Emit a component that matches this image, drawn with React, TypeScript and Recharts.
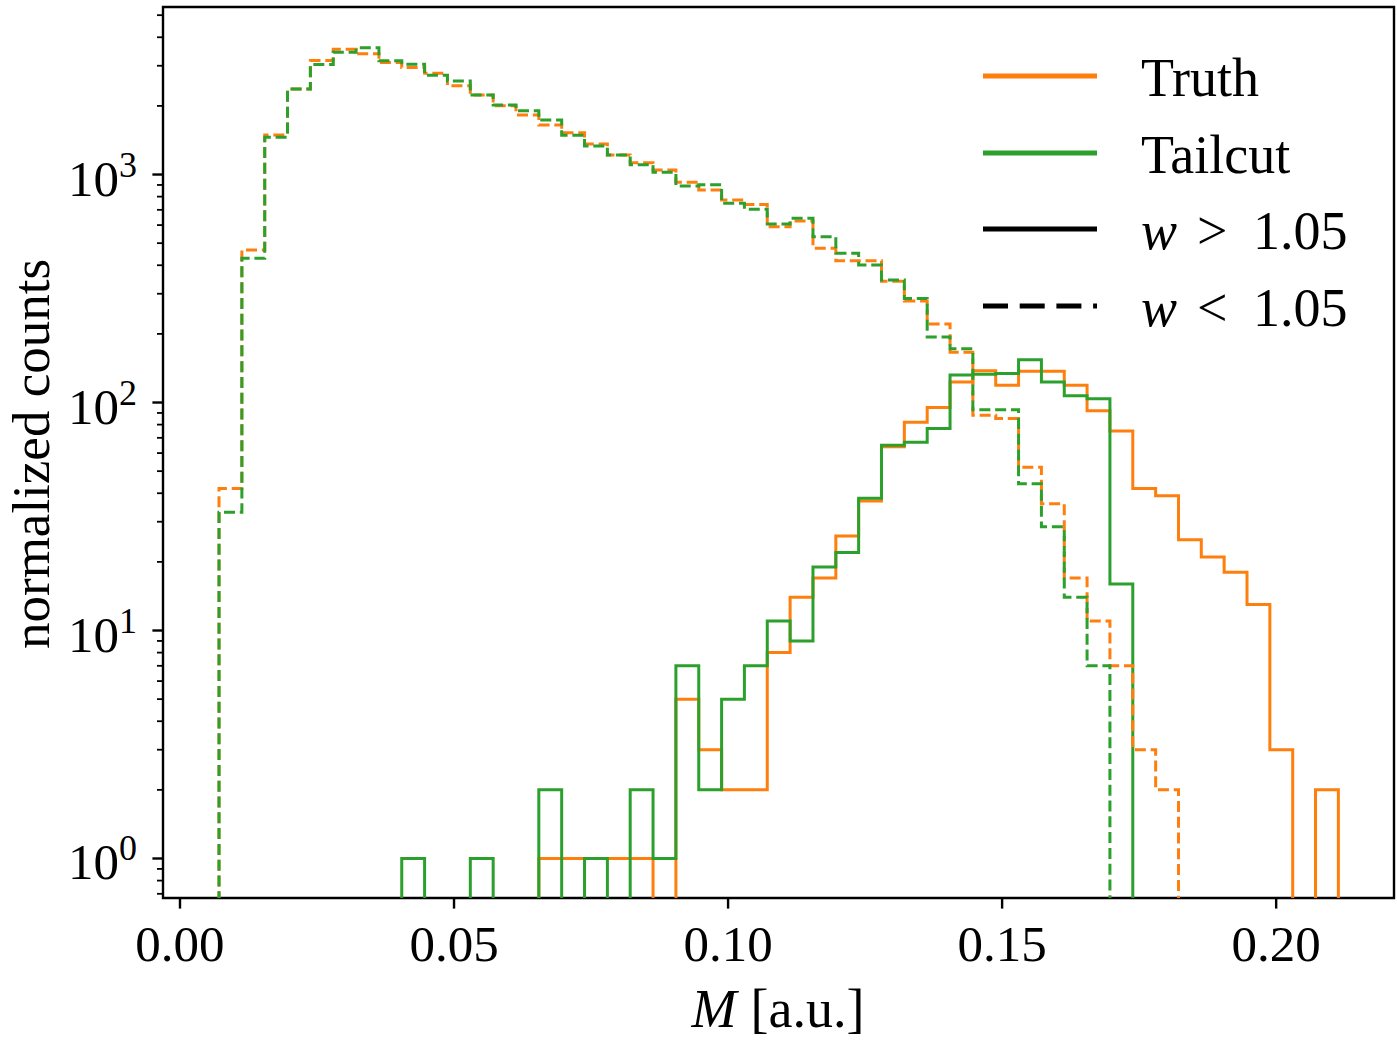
import React from "react";
import { ComposedChart, Line, XAxis, YAxis, ReferenceArea, Legend } from "recharts";

// bin edges of the M histogram (49 bins)
const EDGES = [
  0.00712, 0.01129, 0.01546, 0.01962, 0.02379, 0.02796, 0.03213, 0.0363, 0.04046, 0.04463,
  0.0488, 0.05297, 0.05714, 0.0613, 0.06547, 0.06964, 0.07381, 0.07798, 0.08214, 0.08631,
  0.09048, 0.09465, 0.09882, 0.10298, 0.10715, 0.11132, 0.11549, 0.11966, 0.12382, 0.12799,
  0.13216, 0.13633, 0.1405, 0.14466, 0.14883, 0.153, 0.15717, 0.16134, 0.1655, 0.16967,
  0.17384, 0.17801, 0.18218, 0.18634, 0.19051, 0.19468, 0.19885, 0.20302, 0.20718, 0.21135,
];

// w > 1.05
const TRUTH_HIGH = [
  0, 0, 0, 0, 0, 0, 0, 0, 0, 0,
  0, 0, 0, 0, 1, 1, 1, 1, 1, 0,
  5, 3, 2, 2, 8, 14, 17, 26, 37, 64,
  82, 95, 123, 138, 119, 137, 137, 119, 92, 75,
  42, 39, 25, 21, 18, 13, 3, 0, 2,
];
const TAILCUT_HIGH = [
  0, 0, 0, 0, 0, 0, 0, 0, 1, 0,
  0, 1, 0, 0, 2, 0, 1, 0, 2, 1,
  7, 2, 5, 7, 11, 9, 19, 22, 38, 65,
  67, 77, 132, 133, 134, 154, 123, 107, 104, 16,
  0, 0, 0, 0, 0, 0, 0, 0, 0,
];

// w < 1.05
const TRUTH_LOW = [
  42, 467, 1490, 2370, 3160, 3540, 3390, 3100, 2950, 2780,
  2450, 2230, 2005, 1824, 1648, 1525, 1361, 1218, 1127, 1046,
  924, 855, 773, 738, 590, 625, 475, 419, 419, 340,
  279, 221, 166, 88, 85, 52, 36, 17, 11, 7,
  3, 2, 0, 0, 0, 0, 0, 0, 0,
];
const TAILCUT_LOW = [
  33, 429, 1456, 2370, 3040, 3436, 3600, 3157, 3043, 2723,
  2571, 2233, 2018, 1905, 1734, 1486, 1334, 1218, 1104, 1022,
  891, 902, 748, 704, 607, 643, 534, 451, 401, 345,
  286, 194, 172, 93, 93, 44, 28.5, 14, 7, 0,
  0, 0, 0, 0, 0, 0, 0, 0, 0,
];

const X_TICKS = [0, 0.05, 0.1, 0.15, 0.2];
const Y_MAJOR = [1, 10, 100, 1000];
const Y_MINOR = [
  0.7, 0.8, 0.9, 2, 3, 4, 5, 6, 7, 8, 9, 20, 30, 40, 50, 60, 70, 80, 90,
  200, 300, 400, 500, 600, 700, 800, 900, 2000, 3000, 4000, 5000,
];

const ORANGE = "#ff7f0e";
const GREEN = "#2ca02c";
const FONT = "'Liberation Serif', 'DejaVu Serif', serif";
const FLOOR = 0.05; // empty bins sit below the axis and get clipped

const PLOT_LEFT = 163;
const PLOT_BOTTOM = 898;

const SERIES = [
  { key: "truthHigh", counts: TRUTH_HIGH, color: ORANGE, dash: undefined },
  { key: "tailcutHigh", counts: TAILCUT_HIGH, color: GREEN, dash: undefined },
  { key: "truthLow", counts: TRUTH_LOW, color: ORANGE, dash: "11 4.8" },
  { key: "tailcutLow", counts: TAILCUT_LOW, color: GREEN, dash: "11 4.8" },
];

const pos = (v: number) => (v > 0 ? v : FLOOR);

function buildRows() {
  const rows: any[] = [];
  const first: any = { x: EDGES[0] };
  SERIES.forEach((s) => (first[s.key] = FLOOR));
  rows.push(first);
  for (let i = 0; i < EDGES.length - 1; i++) {
    const r: any = { x: EDGES[i] };
    SERIES.forEach((s) => (r[s.key] = pos(s.counts[i])));
    rows.push(r);
  }
  const last: any = { x: EDGES[EDGES.length - 1] };
  SERIES.forEach((s) => (last[s.key] = FLOOR));
  rows.push(last);
  return rows;
}

const data = buildRows();

function XTick(props: any) {
  const { x, payload } = props;
  return (
    <g>
      <line x1={x} x2={x} y1={PLOT_BOTTOM} y2={PLOT_BOTTOM + 10.6} stroke="#000" strokeWidth={2.4} />
      <text x={x} y={961} textAnchor="middle" fontSize={51} fontFamily={FONT} fill="#000">
        {payload.value.toFixed(2)}
      </text>
    </g>
  );
}

function YTick(props: any) {
  const { y, payload } = props;
  const v = payload.value;
  const major = Y_MAJOR.includes(v);
  if (!major) {
    return <line x1={PLOT_LEFT - 6} x2={PLOT_LEFT} y1={y} y2={y} stroke="#000" strokeWidth={1.8} />;
  }
  const exp = Math.round(Math.log10(v));
  return (
    <g>
      <line x1={PLOT_LEFT - 10.6} x2={PLOT_LEFT} y1={y} y2={y} stroke="#000" strokeWidth={2.4} />
      <text x={137} y={y + 21} textAnchor="end" fontSize={51} fontFamily={FONT} fill="#000">
        10
        <tspan dy={-19} fontSize={36}>
          {exp}
        </tspan>
      </text>
    </g>
  );
}

function LegendBox() {
  const rows = [
    { y: 36, color: ORANGE, dash: undefined, label: "Truth" },
    { y: 113, color: GREEN, dash: undefined, label: "Tailcut" },
    { y: 189, color: "#000", dash: undefined, label: ">" },
    { y: 266, color: "#000", dash: "25 11.7", label: "<" },
  ];
  return (
    <svg width={437} height={300} style={{ display: "block" }}>
      {rows.map((r) => (
        <g key={r.y}>
          <line x1={23} x2={137} y1={r.y} y2={r.y} stroke={r.color} strokeWidth={5} strokeDasharray={r.dash} />
          {r.label === ">" || r.label === "<" ? (
            <text y={r.y + 20} fontSize={54} fontFamily={FONT} fill="#000">
              <tspan x={181} fontStyle="italic">w</tspan>
              <tspan x={237}>{r.label}</tspan>
              <tspan x={293}>1.05</tspan>
            </text>
          ) : (
            <text x={181} y={r.y + 20} fontSize={54} fontFamily={FONT} fill="#000">
              {r.label}
            </text>
          )}
        </g>
      ))}
    </svg>
  );
}

export default function App() {
  return (
    <div style={{ position: "absolute", left: 0, top: 0, background: "#fff" }}>
      <ComposedChart
        width={1397}
        height={1043}
        data={data}
        margin={{ top: 7, right: 3, left: 0, bottom: 0 }}
      >
        <XAxis
          dataKey="x"
          type="number"
          domain={[-0.0031, 0.2215]}
          allowDataOverflow
          ticks={X_TICKS}
          interval={0}
          tick={<XTick />}
          tickLine={false}
          axisLine={false}
          height={145}
          label={() => (
            <text x={778} y={1027} textAnchor="middle" fontSize={54} fontFamily={FONT} fill="#000">
              <tspan fontStyle="italic">M</tspan>
              <tspan dx={14}>[a.u.]</tspan>
            </text>
          )}
        />
        <YAxis
          type="number"
          scale="log"
          domain={[0.671, 5430]}
          allowDataOverflow
          ticks={[...Y_MINOR, ...Y_MAJOR]}
          interval={0}
          tick={<YTick />}
          tickLine={false}
          axisLine={false}
          width={163}
          label={() => (
            <text
              x={49}
              y={454}
              transform="rotate(-90, 49, 454)"
              textAnchor="middle"
              fontSize={53}
              fontFamily={FONT}
              fill="#000"
            >
              normalized counts
            </text>
          )}
        />
        {SERIES.map((s) => (
          <Line
            key={s.key}
            dataKey={s.key}
            type="stepAfter"
            stroke={s.color}
            strokeWidth={3}
            strokeDasharray={s.dash}
            strokeLinejoin="miter"
            dot={false}
            activeDot={false}
            isAnimationActive={false}
          />
        ))}
        <ReferenceArea
          x1={-0.0031}
          x2={0.2215}
          y1={0.671}
          y2={5430}
          ifOverflow="visible"
          fill="none"
          fillOpacity={0}
          stroke="#000"
          strokeWidth={2.4}
        />
        <Legend
          layout="vertical"
          align="center"
          verticalAlign="middle"
          wrapperStyle={{ left: 960, top: 40, width: 437, height: 300, right: "auto", bottom: "auto" }}
          content={() => <LegendBox />}
        />
      </ComposedChart>
    </div>
  );
}
